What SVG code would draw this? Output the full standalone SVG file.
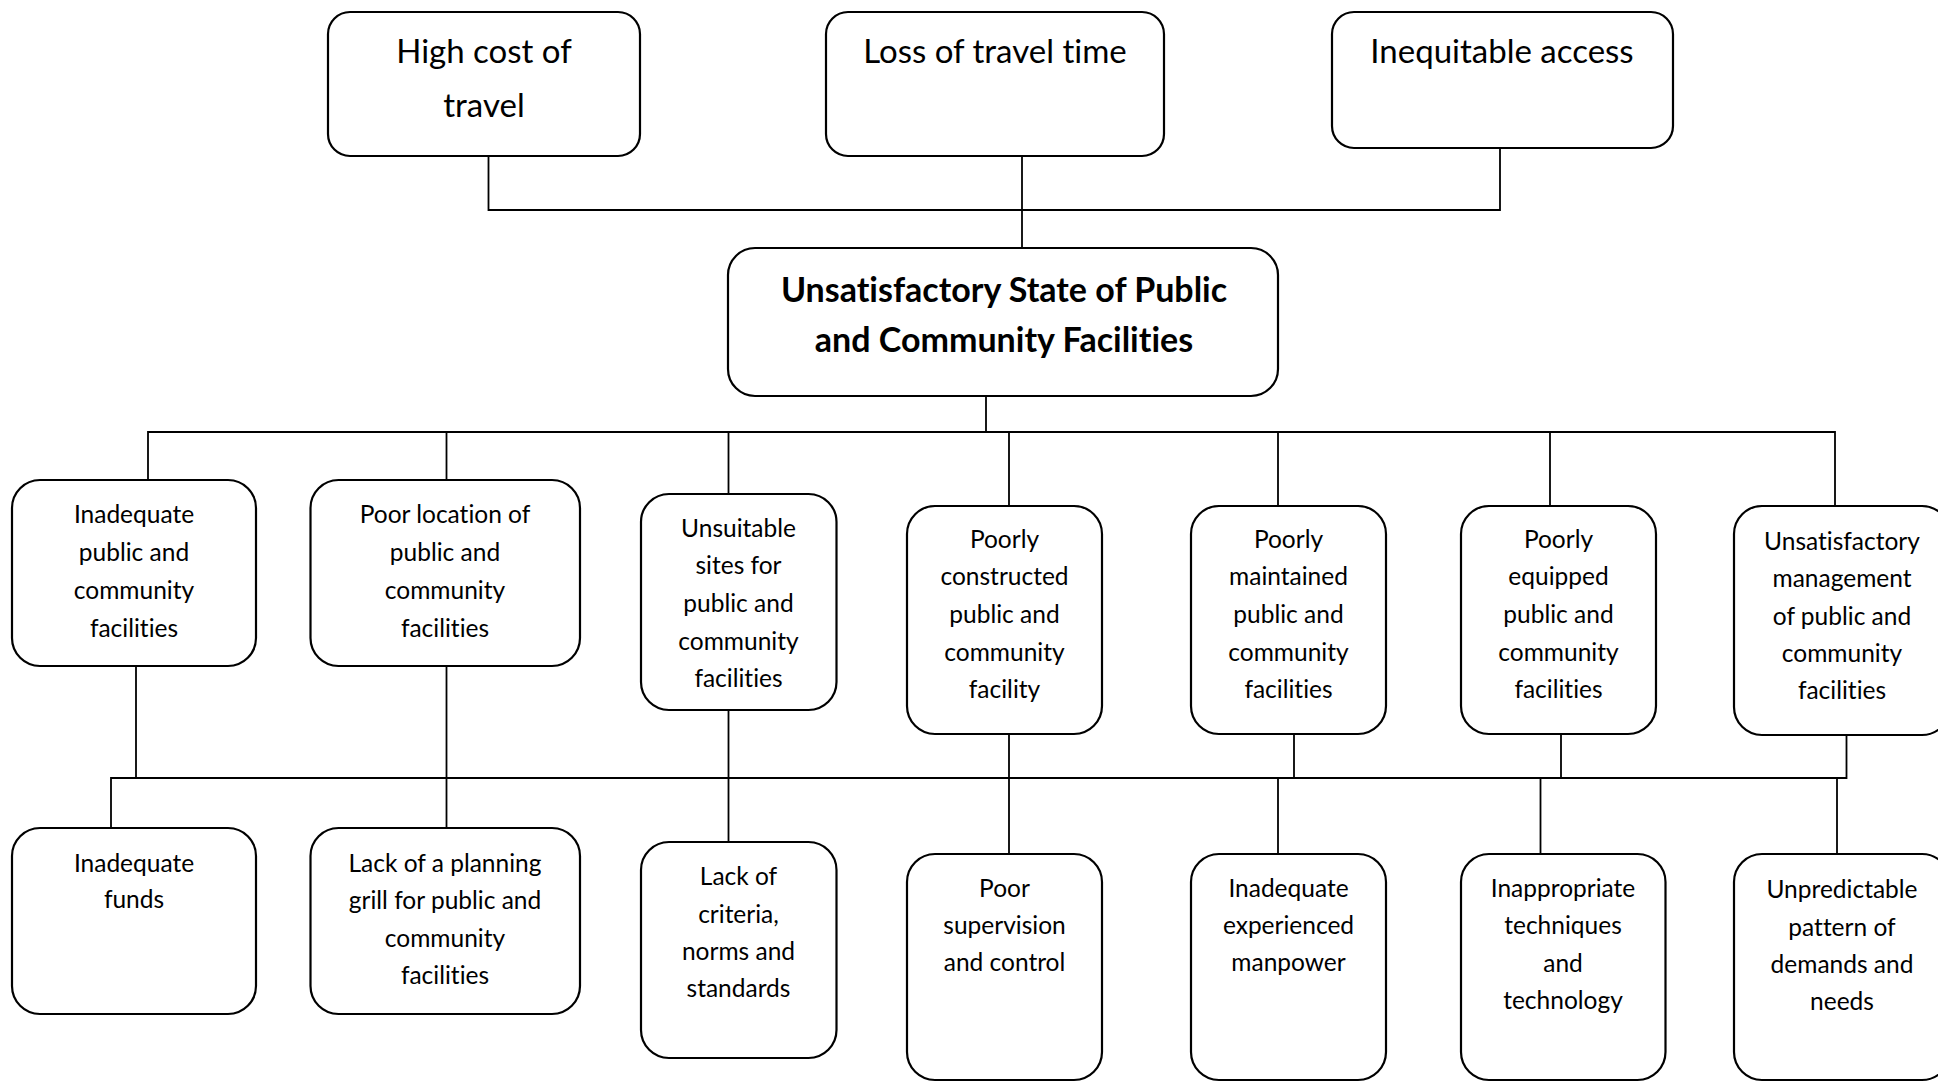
<svg xmlns="http://www.w3.org/2000/svg" width="1938" height="1082" viewBox="0 0 1938 1082">
<style>
  .box { fill: #ffffff; stroke: #000000; stroke-width: 2.2; }
  text { font-family: Lato, "Liberation Sans", sans-serif; fill: #000000; text-anchor: middle; font-variant-ligatures: none; }
  .t { font-size: 24.5px; }
  .tl { font-size: 33px; }
  .tb { font-size: 34px; font-weight: bold; }
  .ln { fill: none; stroke: #000000; stroke-width: 1.8; }
</style>
<rect x="0" y="0" width="1938" height="1082" fill="#ffffff"/>
<g id="connectors">
  <path class="ln" d="M488.5,156 V210 H1500 V148"/>
  <path class="ln" d="M1022,156 V248"/>
  <path class="ln" d="M986,396 V432"/>
  <path class="ln" d="M148,480 V432 H1835 V506"/>
  <path class="ln" d="M446.5,432 V480"/>
  <path class="ln" d="M728.5,432 V494"/>
  <path class="ln" d="M1009,432 V506"/>
  <path class="ln" d="M1278,432 V506"/>
  <path class="ln" d="M1550,432 V506"/>
  <path class="ln" d="M136,666 V778"/>
  <path class="ln" d="M111,828 V778 H1846.5 V735"/>
  <path class="ln" d="M446.5,666 V828"/>
  <path class="ln" d="M728.5,710 V842"/>
  <path class="ln" d="M1009,734 V854"/>
  <path class="ln" d="M1294,734 V778"/>
  <path class="ln" d="M1561,734 V778"/>
  <path class="ln" d="M1278,778 V854"/>
  <path class="ln" d="M1540.5,778 V854"/>
  <path class="ln" d="M1837,778 V854"/>
</g>
<g id="high-cost">
  <rect class="box" x="328" y="12" width="312" height="144" rx="22"/>
  <text class="tl" x="484" y="63">High cost of</text>
  <text class="tl" x="484" y="117">travel</text>
</g>
<g id="loss-time">
  <rect class="box" x="826" y="12" width="338" height="144" rx="22"/>
  <text class="tl" x="995" y="63">Loss of travel time</text>
</g>
<g id="inequitable">
  <rect class="box" x="1332" y="12" width="341" height="136" rx="22"/>
  <text class="tl" x="1502" y="63">Inequitable access</text>
</g>
<g id="main">
  <rect class="box" x="728" y="248" width="550" height="148" rx="27"/>
  <text class="tb" x="1004" y="302">Unsatisfactory State of Public</text>
  <text class="tb" x="1004" y="352">and Community Facilities</text>
</g>
<g id="m1">
  <rect class="box" x="12" y="480" width="244" height="186" rx="28"/>
  <text class="t" x="134" y="523">Inadequate</text>
  <text class="t" x="134" y="561">public and</text>
  <text class="t" x="134" y="599">community</text>
  <text class="t" x="134" y="637">facilities</text>
</g>
<g id="m2">
  <rect class="box" x="310.5" y="480" width="269.5" height="186" rx="28"/>
  <text class="t" x="445" y="523">Poor location of</text>
  <text class="t" x="445" y="561">public and</text>
  <text class="t" x="445" y="599">community</text>
  <text class="t" x="445" y="637">facilities</text>
</g>
<g id="m3">
  <rect class="box" x="641" y="494" width="195.5" height="216" rx="28"/>
  <text class="t" x="738.5" y="537">Unsuitable</text>
  <text class="t" x="738.5" y="574">sites for</text>
  <text class="t" x="738.5" y="612">public and</text>
  <text class="t" x="738.5" y="650">community</text>
  <text class="t" x="738.5" y="687">facilities</text>
</g>
<g id="m4">
  <rect class="box" x="907" y="506" width="195" height="228" rx="28"/>
  <text class="t" x="1004.5" y="548">Poorly</text>
  <text class="t" x="1004.5" y="585">constructed</text>
  <text class="t" x="1004.5" y="623">public and</text>
  <text class="t" x="1004.5" y="661">community</text>
  <text class="t" x="1004.5" y="698">facility</text>
</g>
<g id="m5">
  <rect class="box" x="1191" y="506" width="195" height="228" rx="28"/>
  <text class="t" x="1288.5" y="548">Poorly</text>
  <text class="t" x="1288.5" y="585">maintained</text>
  <text class="t" x="1288.5" y="623">public and</text>
  <text class="t" x="1288.5" y="661">community</text>
  <text class="t" x="1288.5" y="698">facilities</text>
</g>
<g id="m6">
  <rect class="box" x="1461" y="506" width="195" height="228" rx="28"/>
  <text class="t" x="1558.5" y="548">Poorly</text>
  <text class="t" x="1558.5" y="585">equipped</text>
  <text class="t" x="1558.5" y="623">public and</text>
  <text class="t" x="1558.5" y="661">community</text>
  <text class="t" x="1558.5" y="698">facilities</text>
</g>
<g id="m7">
  <rect class="box" x="1734" y="506" width="216" height="229" rx="28"/>
  <text class="t" x="1842" y="550">Unsatisfactory</text>
  <text class="t" x="1842" y="587">management</text>
  <text class="t" x="1842" y="625">of public and</text>
  <text class="t" x="1842" y="662">community</text>
  <text class="t" x="1842" y="699">facilities</text>
</g>
<g id="b1">
  <rect class="box" x="12" y="828" width="244" height="186" rx="28"/>
  <text class="t" x="134" y="872">Inadequate</text>
  <text class="t" x="134" y="908">funds</text>
</g>
<g id="b2">
  <rect class="box" x="310.5" y="828" width="269.5" height="186" rx="28"/>
  <text class="t" x="445" y="872">Lack of a planning</text>
  <text class="t" x="445" y="909">grill for public and</text>
  <text class="t" x="445" y="947">community</text>
  <text class="t" x="445" y="984">facilities</text>
</g>
<g id="b3">
  <rect class="box" x="641" y="842" width="195.5" height="216" rx="28"/>
  <text class="t" x="738.5" y="885">Lack of</text>
  <text class="t" x="738.5" y="923">criteria,</text>
  <text class="t" x="738.5" y="960">norms and</text>
  <text class="t" x="738.5" y="997">standards</text>
</g>
<g id="b4">
  <rect class="box" x="907" y="854" width="195" height="226" rx="28"/>
  <text class="t" x="1004.5" y="897">Poor</text>
  <text class="t" x="1004.5" y="934">supervision</text>
  <text class="t" x="1004.5" y="971">and control</text>
</g>
<g id="b5">
  <rect class="box" x="1191" y="854" width="195" height="226" rx="28"/>
  <text class="t" x="1288.5" y="897">Inadequate</text>
  <text class="t" x="1288.5" y="934">experienced</text>
  <text class="t" x="1288.5" y="971">manpower</text>
</g>
<g id="b6">
  <rect class="box" x="1461" y="854" width="204.5" height="226" rx="28"/>
  <text class="t" x="1563" y="897">Inappropriate</text>
  <text class="t" x="1563" y="934">techniques</text>
  <text class="t" x="1563" y="972">and</text>
  <text class="t" x="1563" y="1009">technology</text>
</g>
<g id="b7">
  <rect class="box" x="1734" y="854" width="216" height="226" rx="28"/>
  <text class="t" x="1842" y="898">Unpredictable</text>
  <text class="t" x="1842" y="936">pattern of</text>
  <text class="t" x="1842" y="973">demands and</text>
  <text class="t" x="1842" y="1010">needs</text>
</g>
</svg>
